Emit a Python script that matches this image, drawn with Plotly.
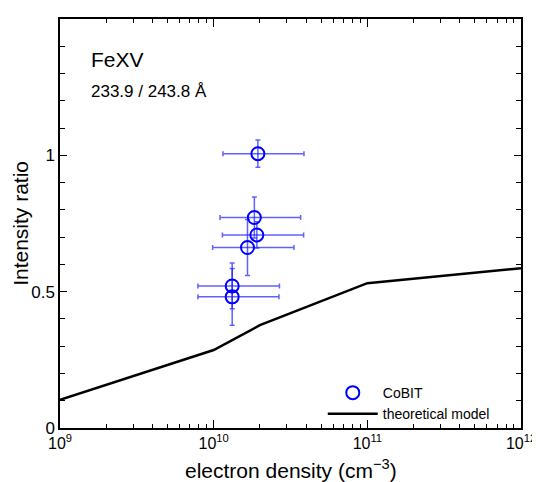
import plotly.graph_objects as go

# CoBIT measurements
cobit_density = [1.94e10, 1.84e10, 1.91e10, 1.66e10, 1.32e10, 1.32e10]
cobit_density_lo = [1.15e10, 1.10e10, 1.14e10, 0.985e10, 0.79e10, 0.79e10]
cobit_density_hi = [3.87e10, 3.68e10, 3.85e10, 3.33e10, 2.68e10, 2.66e10]
cobit_ratio = [1.006, 0.772, 0.708, 0.662, 0.521, 0.481]
cobit_ratio_err = [0.05, 0.075, 0.048, 0.103, 0.084, 0.104]

# theoretical model
model_density = [1e9, 1e10, 2e10, 1e11, 1e12]
model_ratio = [0.103, 0.286, 0.377, 0.531, 0.586]

x_tick_vals = [1e9, 1e10, 1e11, 1e12]
x_tick_text = ["10<sup>9</sup>", "10<sup>10</sup>", "10<sup>11</sup>", "10<sup>12</sup>"]
y_tick_vals = [0, 0.5, 1]
y_tick_text = ["0", "0.5", "1"]

ex_plus = [h - c for h, c in zip(cobit_density_hi, cobit_density)]
ex_minus = [c - l for c, l in zip(cobit_density, cobit_density_lo)]

x_minor = [m * 10 ** e for e in (9, 10, 11) for m in range(2, 10)]
y_minor = [i / 10 for i in range(0, 16)]

fig = go.Figure()
fig.add_trace(go.Scatter(
    x=model_density, y=model_ratio, mode="lines",
    line=dict(color="black", width=2.5),
    name="theoretical model",
))
fig.add_trace(go.Scatter(
    x=cobit_density, y=cobit_ratio, mode="markers",
    marker=dict(symbol="circle-open", size=13, color="blue", line=dict(width=2, color="blue")),
    error_x=dict(type="data", array=ex_plus, arrayminus=ex_minus, symmetric=False,
                 color="rgba(30,30,255,0.7)", thickness=1.5, width=2.5),
    error_y=dict(type="data", array=cobit_ratio_err, color="rgba(30,30,255,0.7)",
                 thickness=1.5, width=2.5),
    name="CoBIT",
))

fig.add_annotation(x=0.062, y=0.902, xref="paper", yref="paper", text="FeXV",
                   showarrow=False, xanchor="left", yanchor="middle",
                   font=dict(size=21, color="black"))
fig.add_annotation(x=0.062, y=0.822, xref="paper", yref="paper", text="233.9 / 243.8 Å",
                   showarrow=False, xanchor="left", yanchor="middle",
                   font=dict(size=17, color="black"))
# axis titles
fig.add_annotation(x=0.5, y=-0.100, xref="paper", yref="paper",
                   text="electron density (cm<sup>−3</sup>)",
                   showarrow=False, xanchor="center", yanchor="middle",
                   font=dict(size=21, color="black"))
fig.add_annotation(x=-0.086, y=0.5, xref="paper", yref="paper", text="Intensity ratio",
                   showarrow=False, xanchor="center", yanchor="middle", textangle=-90,
                   font=dict(size=21, color="black"))

fig.update_layout(
    width=532, height=474,
    margin=dict(l=52, r=19, t=11, b=54),
    paper_bgcolor="white", plot_bgcolor="white",
    font=dict(family="Liberation Sans, Arial, sans-serif", color="black"),
    showlegend=True,
    legend=dict(x=0.57, y=-0.005, xanchor="left", yanchor="bottom",
                bgcolor="rgba(0,0,0,0)", font=dict(size=14),
                traceorder="reversed", tracegroupgap=0, itemwidth=50),
    xaxis=dict(
        type="log", range=[9, 12], tickvals=x_tick_vals, ticktext=x_tick_text,
        ticks="inside", ticklen=8, tickwidth=1, tickcolor="black",
        showline=True, linecolor="black", linewidth=1.5, mirror="allticks",
        showgrid=False, zeroline=False, automargin=False,
        tickfont=dict(size=16),
        minor=dict(tickvals=x_minor, ticks="inside", ticklen=4, tickcolor="black", showgrid=False),
    ),
    yaxis=dict(
        range=[0, 1.5], tickvals=y_tick_vals, ticktext=y_tick_text,
        ticks="inside", ticklen=7, tickwidth=1, tickcolor="black",
        showline=True, linecolor="black", linewidth=1.5, mirror="allticks",
        showgrid=False, zeroline=False, automargin=False,
        tickfont=dict(size=17),
        minor=dict(tickvals=y_minor, ticks="inside", ticklen=5, tickcolor="black", showgrid=False),
    ),
)

fig.write_html("out.html")
